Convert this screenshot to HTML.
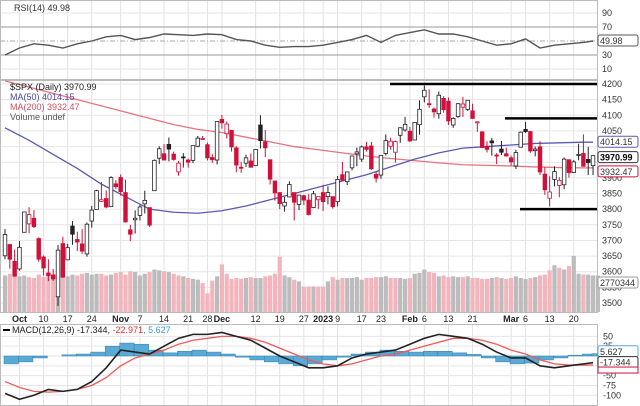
<!DOCTYPE html>
<html><head><meta charset="utf-8"><style>
body{margin:0;background:#fff;}
svg{display:block;font-family:"Liberation Sans",sans-serif;}
</style></head><body>
<svg id="c" width="640" height="406" viewBox="0 0 640 406"></svg>
<script>
const closes=[3719,3640,3586,3678,3791,3783,3744,3640,3612,3588,3577,3669,3583,3677,3720,3695,3666,3752,3797,3859,3830,3807,3901,3872,3856,3759,3720,3771,3807,3828,3749,3956,3993,3957,3992,3959,3947,3965,3950,4003,4027,4026,3964,3958,4080,4076,4072,3999,3941,3933,3964,3934,3991,4019,3996,3896,3852,3818,3822,3879,3822,3845,3829,3783,3849,3840,3824,3853,3808,3895,3893,3919,3970,3983,3999,3991,3929,3899,3972,4019,4017,4016,4060,4071,4018,4077,4119,4180,4136,4111,4164,4118,4082,4090,4137,4136,4148,4090,4079,3997,3991,4012,3970,3982,3970,3951,3981,4046,4048,3986,3992,3919,3862,3855,3920,3892,3960,3917,3951,3975,3937,3949,3971];
const opens=[3651,3687,3633,3609,3726,3753,3771,3706,3647,3596,3590,3520,3690,3638,3746,3703,3689,3657,3762,3799,3825,3834,3808,3881,3901,3853,3734,3766,3780,3817,3805,3859,3963,3977,4007,3976,3919,3967,3957,3956,4001,4024,4006,3965,3957,4087,4041,4052,3996,3934,3947,3954,3939,4069,4015,3958,3890,3853,3810,3839,3853,3815,3843,3829,3805,3830,3853,3840,3840,3824,3910,3888,3932,3977,3960,3999,4002,3911,3909,3978,4001,3982,4036,4053,4049,4021,4070,4159,4137,4120,4105,4154,4145,4069,4096,4126,4119,4114,4077,4047,4001,4018,3973,3992,3977,3964,3938,3998,4055,4048,3987,3999,3912,3835,3895,3876,3878,3958,3917,3975,3978,3959,3939];
const highs=[3736,3687,3671,3698,3791,3806,3797,3710,3652,3640,3609,3685,3712,3689,3762,3728,3736,3757,3810,3862,3887,3860,3905,3893,3911,3894,3750,3796,3814,3859,3805,3959,4001,4008,4029,3984,3954,3979,3962,4003,4034,4034,4013,3977,4080,4101,4080,4052,4001,3951,3974,3978,3991,4100,4053,3958,3890,3854,3839,3889,3853,3845,3846,3848,3858,3840,3878,3873,3840,3906,3951,3919,3970,3997,4003,4015,4015,3922,3973,4039,4028,4019,4062,4095,4063,4077,4148,4195,4183,4125,4176,4161,4157,4094,4139,4159,4148,4137,4081,4049,4017,4028,3979,4018,3997,3971,3990,4048,4079,4050,4000,4017,3934,3905,3937,3902,3965,3959,3957,4009,4039,3999,3972];
const lows=[3640,3610,3584,3604,3726,3723,3740,3632,3588,3570,3571,3491,3580,3638,3686,3666,3657,3648,3741,3799,3823,3803,3808,3864,3843,3758,3698,3722,3764,3786,3743,3859,3944,3957,3953,3955,3907,3933,3933,3947,3998,4021,3956,3948,3943,4057,4026,3984,3918,3916,3935,3934,3939,3994,3966,3879,3827,3800,3792,3839,3764,3797,3813,3780,3805,3801,3794,3815,3802,3809,3890,3877,3924,3937,3951,3984,3925,3885,3897,3971,3990,3949,4012,4048,4015,4021,4038,4141,4124,4093,4089,4108,4069,4060,4092,4095,4114,4089,4047,3995,3981,3971,3944,3973,3968,3939,3928,3998,4044,3980,3969,3909,3846,3809,3873,3838,3864,3901,3917,3956,3936,3909,3909];
const volumes=[4.3,4.5,4.6,4.2,4.3,4.1,4.0,4.4,4.1,4.3,4.4,5.0,4.6,4.2,4.4,4.3,4.5,4.6,4.4,4.5,4.5,4.3,4.4,4.6,4.7,4.4,4.8,4.7,4.3,4.5,4.7,5.0,4.9,4.8,4.7,4.5,4.3,4.2,4.0,3.9,3.8,3.4,2.2,3.7,4.2,5.6,4.5,3.9,4.0,3.9,4.0,4.1,4.0,4.0,4.2,4.3,4.5,6.5,4.3,4.1,3.8,3.6,3.0,3.0,3.0,3.0,3.0,3.6,4.1,3.8,4.0,4.0,4.0,4.1,3.8,4.0,4.0,4.1,4.1,4.2,4.0,4.0,4.0,3.9,4.0,4.5,4.6,5.0,4.7,4.6,4.2,4.3,4.1,4.2,4.1,4.1,4.2,4.0,4.0,3.9,3.9,4.0,4.1,4.0,3.9,4.0,4.2,4.0,3.9,4.0,4.1,4.3,4.4,4.9,5.5,5.2,5.0,5.4,6.6,4.5,4.4,4.4,4.3,4.3];
const maIdx=[0,5,10,15,20,25,30,35,40,45,50,55,60,65,70,75,80,85,90,95,100,105,110,115,120,122];
const ma50=[4060,4020,3975,3930,3880,3840,3800,3790,3787,3795,3810,3830,3850,3870,3890,3910,3935,3960,3980,3995,4000,4005,4010,4012,4014,4014];
const ma200=[4210,4190,4170,4150,4130,4110,4090,4070,4055,4045,4030,4015,4000,3990,3980,3970,3962,3955,3948,3942,3940,3938,3935,3933,3932,3932];
const indIdx=[0,3,6,9,12,15,18,21,24,27,30,33,36,39,42,45,48,51,54,57,60,63,66,69,72,75,78,81,84,87,90,93,96,99,102,105,108,111,114,117,120,122];
const rsi=[30,40,46,44,40,46,50,56,58,52,55,60,59,58,60,59,52,50,44,41,42,42,44,48,52,58,48,58,62,66,60,60,56,50,44,46,53,40,44,46,48,50];
const macd=[-95,-110,-100,-85,-90,-85,-65,-30,15,10,5,25,45,55,55,60,50,40,20,0,-15,-30,-30,-25,-5,5,10,15,30,45,55,50,45,30,10,-5,-5,-25,-30,-25,-20,-17];
const signal=[-65,-80,-90,-92,-90,-85,-75,-55,-25,-5,5,15,30,40,45,50,50,45,35,20,5,-10,-20,-25,-20,-10,0,5,15,25,35,45,45,40,30,15,5,-10,-20,-23,-23,-23];
const hist=[-20,-15,-5,0,3,5,10,25,33,30,15,8,12,15,10,5,-3,-10,-15,-20,-25,-20,-10,-3,5,10,15,12,10,12,12,8,4,-5,-15,-20,-18,-10,-5,2,5,6];
const priceTicks=[4200,4150,4100,4050,4000,3950,3900,3850,3800,3750,3700,3650,3600,3550,3500];
const rsiTicks=[90,70,30,10];
const macdTicks=[50,25,-50,-75,-100];
const dateIdx=[3,8,13,18,24,28,33,38,42,45,52,57,62,66,69,74,78,84,87,92,97,105,108,113,118];
const dateLabels=["Oct","10","17","24","Nov","7","14","21","28","Dec","12","19","27","2023","9","17","23","Feb","6","13","21","Mar","6","13","20"];

const NS="http://www.w3.org/2000/svg", svg=document.getElementById('c');
const PR=597;
const x=i=>5+i*4.82;
const yP=p=>84+(4200-p)*0.3129;
const yR=v=>41-(v-50)*0.7;
const yM=v=>356-v*0.393;
const yV=v=>312-v*8.5;
function el(t,a,p){const e=document.createElementNS(NS,t);for(const k in a)e.setAttribute(k,a[k]);(p||svg).appendChild(e);return e;}
function txt(s,xx,yy,a){const e=el('text',Object.assign({x:xx,y:yy,'font-size':9,fill:'#333'},a||{}));e.textContent=s;return e;}

const grid=el('g',{});


dateIdx.forEach(i=>{[[0,80],[81,313],[324,406]].forEach(r=>el('line',{x1:x(i),x2:x(i),y1:r[0],y2:r[1],stroke:'#e2e2e2','stroke-width':1},grid));});
priceTicks.forEach(p=>el('line',{x1:0,x2:PR,y1:yP(p),y2:yP(p),stroke:'#e6e6e6'},grid));
[90,10].forEach(v=>el('line',{x1:0,x2:PR,y1:yR(v),y2:yR(v),stroke:'#e6e6e6'},grid));
[70,30].forEach(v=>el('line',{x1:0,x2:PR,y1:yR(v),y2:yR(v),stroke:'#999'},grid));
el('line',{x1:0,x2:PR,y1:yR(50),y2:yR(50),stroke:'#aaa','stroke-dasharray':'5,2,1,2'},grid);
[50,25,0,-25,-50,-75,-100].forEach(v=>el('line',{x1:0,x2:PR,y1:yM(v),y2:yM(v),stroke:'#e6e6e6'},grid));
[[0,80],[80,313],[324,406]].forEach(r=>el('rect',{x:0.5,y:r[0]+0.5,width:PR,height:r[1]-r[0]-1,fill:'none',stroke:'#bbb'},grid));

const rp=el('polyline',{points:indIdx.map((i,k)=>x(i)+','+yR(rsi[k])).join(' '),fill:'none',stroke:'#555','stroke-width':1.4});


rsiTicks.forEach(v=>txt(String(v),602,yR(v)+3,{}));

volumes.forEach((v,i)=>{const down=i>0&&closes[i]<closes[i-1];
 const r=el('rect',{x:x(i)-2.1,y:yV(v),width:4.2,height:312-yV(v),fill:down?'#f2b5bd':'#bcbcbc'});
 
 });

const m2=el('polyline',{points:maIdx.map((i,k)=>x(i)+','+yP(ma200[k])).join(' '),fill:'none',stroke:'#e57480','stroke-width':1.3});


const m5=el('polyline',{points:maIdx.map((i,k)=>x(i)+','+yP(ma50[k])).join(' '),fill:'none',stroke:'#5a5ab0','stroke-width':1.3});



closes.forEach((c,i)=>{const o=opens[i];const down=i>0&&c<closes[i-1];const col=down?'#d0103a':'#222';
 const g=el('g',{});
 
 
 el('line',{x1:x(i),x2:x(i),y1:yP(highs[i]),y2:yP(lows[i]),stroke:col,'stroke-width':1},g);
 const top=yP(Math.max(o,c)),bot=yP(Math.min(o,c));
 el('rect',{x:x(i)-1.8,y:top,width:3.6,height:Math.max(1,bot-top),fill:c<o?col:'#fff',stroke:col,'stroke-width':0.8},g);});

[[390,4200],[505,4090],[520,3800]].forEach(s=>{const l=el('line',{x1:s[0],x2:PR,y1:yP(s[1]),y2:yP(s[1]),stroke:'#000','stroke-width':2.5});
 
 });

priceTicks.forEach(p=>{if([4000,3950].includes(p))return;txt(String(p),602,yP(p)+3);});
function box(s,yy,col,bold){el('rect',{x:598,y:yy-6,width:40,height:11,fill:'#fff',stroke:col,'stroke-width':1,rx:2});txt(s,600,yy+3,{fill:bold?'#000':'#333','font-weight':bold?'bold':'normal'});}
box('4014.15',yP(4014),'#5a5ab0');
box('3970.99',yP(3971)+2,'#333',true);
box('3932.47',yP(3932)+4,'#d0103a');
box('2770344',283,'#999');
box('49.98',yR(49.98),'#555');

txt('RSI(14) 49.98',14,11,{fill:'#333'});
txt('$SPX (Daily) 3970.99',10,90,{fill:'#222'});
txt('MA(50) 4014.15',10,100,{fill:'#4a4aa0'});
txt('MA(200) 3932.47',10,110,{fill:'#d05060'});
txt('Volume undef',10,120,{fill:'#555'});

el('rect',{x:0,y:313,width:640,height:11,fill:'#fff'});
dateIdx.forEach((i,k)=>{const b=isNaN(+dateLabels[k])||dateLabels[k]==='2023';
 txt(dateLabels[k],x(i),322,{'text-anchor':'middle','font-weight':b?'bold':'normal',fill:'#222',});});

hist.forEach((h,k)=>{const i=indIdx[k];const w=(k<hist.length-1?indIdx[k+1]-i:2)*4.82;
 const r=el('rect',{x:x(i)-1,y:Math.min(yM(0),yM(h)),width:w,height:Math.abs(yM(h)-yM(0)),fill:'#5aaad6',stroke:'#2f7fae','stroke-width':0.5});
 
 });
const sl=el('polyline',{points:indIdx.map((i,k)=>x(i)+','+yM(signal[k])).join(' '),fill:'none',stroke:'#ef5a5a','stroke-width':1.3});


const ml=el('polyline',{points:indIdx.map((i,k)=>x(i)+','+yM(macd[k])).join(' '),fill:'none',stroke:'#222','stroke-width':1.6});


macdTicks.forEach(v=>txt(String(v),603,yM(v)+3));
box('5.627',yM(5.6)-2,'#5aaad6');
box('-17.344',yM(-17),'#333');
el('rect',{x:598,y:yM(-23)+2,width:40,height:6,fill:'#fff',stroke:'#d0103a'});
const leg=el('text',{x:12,y:333,'font-size':9,fill:'#222'});


const s1=el('tspan',{fill:'#222'},leg);s1.textContent='MACD(12,26,9) -17.344, ';
const s2=el('tspan',{fill:'#e03030'},leg);s2.textContent='-22.971';
const s3=el('tspan',{fill:'#3a9ad0'},leg);s3.textContent=', 5.627';
el('line',{x1:3,x2:10,y1:330,y2:330,stroke:'#000','stroke-width':2});
</script>
</body></html>
